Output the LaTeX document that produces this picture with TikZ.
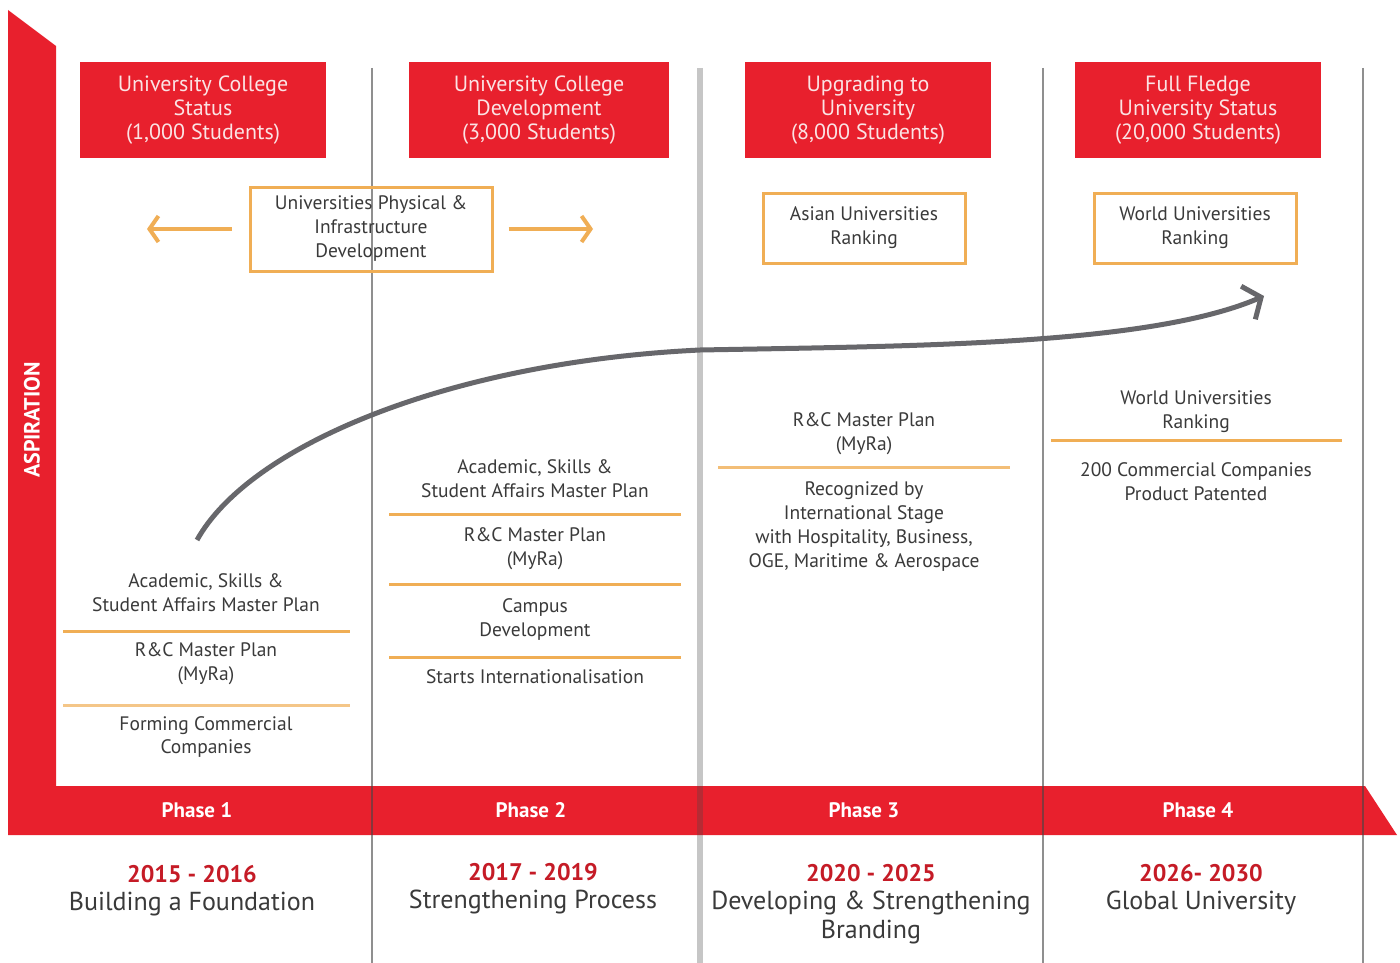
\documentclass[tikz,border=0pt]{standalone}
\usepackage{fontspec}
\setmainfont{PT Sans}
\usetikzlibrary{arrows.meta}
\definecolor{brandred}{HTML}{E8202D}
\definecolor{boxorange}{HTML}{F0AE55}
\definecolor{txtgray}{HTML}{3A3A3A}
\definecolor{curvegray}{HTML}{67676B}
\definecolor{pinkwhite}{HTML}{FBE3E4}
\begin{document}
\begin{tikzpicture}[x=1pt,y=-1pt,
  redbox/.style={fill=brandred,draw=none,minimum width=246pt,minimum height=96pt,inner sep=0pt,
    text=pinkwhite,align=center,font=\fontsize{22}{24}\selectfont},
  obox/.style={draw=boxorange,line width=3pt,fill=white,minimum height=70pt,inner sep=0pt,
    text=txtgray,align=center,font=\fontsize{19.5}{24}\selectfont},
  item/.style={text=txtgray,align=center,font=\fontsize{19.5}{24}\selectfont,inner sep=0pt},
  sep/.style={draw=boxorange,line width=3pt},
  phase/.style={text=white,font=\bfseries\fontsize{21}{22}\selectfont,inner sep=0pt},
  year/.style={text=brandred!85!black,font=\bfseries\fontsize{24}{26}\selectfont,inner sep=0pt},
  period/.style={text=txtgray,align=center,font=\fontsize{26}{29}\selectfont,inner sep=0pt},
  vline/.style={draw=black!73,opacity=0.6,line width=2.5pt},
  oarrow/.style={draw=boxorange,line width=4pt,-{Straight Barb[length=9pt,width=26pt,line width=4pt]}}
]
\useasboundingbox (0,0) rectangle (1400,963);
\fill[white] (0,0) rectangle (1400,963);

% red frame (aspiration axis + phase bar)
\fill[brandred] (8,10) -- (56,46) -- (56,786) -- (1365,786) -- (1397,835) -- (8,835) -- cycle;
\node[text=white,font=\bfseries\fontsize{22}{24}\selectfont,rotate=90] (asp) at (32,420) {ASPIRATION};

% phase labels
\node[phase] (p1) at (197,810) {Phase 1};
\node[phase] (p2) at (531,810) {Phase 2};
\node[phase] (p3) at (864,810) {Phase 3};
\node[phase] (p4) at (1198,810) {Phase 4};

% separators between columns
\draw[vline] (372,68) -- (372,963);
\draw[draw=black!73,opacity=0.3,line width=6pt] (700,68) -- (700,963);
\draw[vline] (1043,68) -- (1043,963);
\draw[vline] (1363,68) -- (1363,963);

% top red status boxes
\node[redbox] (s1) at (203,110) {University College\\Status\\(1,000 Students)};
\node[redbox,minimum width=260pt] (s2) at (539,110) {University College\\Development\\(3,000 Students)};
\node[redbox] (s3) at (868,110) {Upgrading to\\University\\(8,000 Students)};
\node[redbox] (s4) at (1198,110) {Full Fledge\\University Status\\(20,000 Students)};

% orange boxes
\node[obox,minimum width=242pt,minimum height=84pt,fill=none] (o1) at (371,229) {Universities Physical \&\\Infrastructure\\Development};
\node[obox,minimum width=202pt] (o2) at (864,228) {Asian Universities\\Ranking};
\node[obox,minimum width=202pt] (o3) at (1195,228) {World Universities\\Ranking};

\coordinate (la) at (147,229);
\coordinate (ra) at (593,229);
\draw[oarrow] ([xshift=-17pt]o1.west) -- (la);
\draw[oarrow] ([xshift=15pt]o1.east) -- (ra);

% aspiration curve
\coordinate (c0) at (197,540);
\coordinate (c1) at (700,350);
\coordinate (c2) at (1264,296);
\draw[draw=curvegray,line width=5pt,-{Straight Barb[length=14pt,width=36pt,line width=5pt]}]
  (c0) .. controls (250,445) and (450,362) .. (c1) .. controls (920,346) and (1150,345) .. (c2);

% Phase 1 items
\node[item] (a1) at (206,593) {Academic, Skills \&\\Student Affairs Master Plan};
\node[item] (a2) at (206,664) {R\&C Master Plan\\(MyRa)};
\node[item] (a3) at (206,737) {Forming Commercial\\Companies};
\draw[sep] (63,631) -- (350,631);
\draw[sep,draw=boxorange!70] (63,705) -- (350,705);

% Phase 2 items
\node[item] (b1) at (535,479) {Academic, Skills \&\\Student Affairs Master Plan};
\node[item] (b2) at (535,549) {R\&C Master Plan\\(MyRa)};
\node[item] (b3) at (535,620) {Campus\\Development};
\node[item] (b4) at (535,677) {Starts Internationalisation};
\draw[sep] (389,514) -- (681,514);
\draw[sep] (389,584) -- (681,584);
\draw[sep] (389,657) -- (681,657);

% Phase 3 items
\node[item] (d1) at (864,434) {R\&C Master Plan\\(MyRa)};
\node[item] (d2) at (864,527) {Recognized by\\International Stage\\with Hospitality, Business,\\OGE, Maritime \& Aerospace};
\draw[sep,draw=boxorange!80] (718,467) -- (1010,467);

% Phase 4 items
\node[item] (e1) at (1196,412) {World Universities\\Ranking};
\node[item] (e2) at (1196,482) {200 Commercial Companies\\Product Patented};
\draw[sep] (1051,440) -- (1342,440);

% years and periods
\node[year] (y1) at (192,874) {2015 - 2016};
\node[period,anchor=north] (t1) at (192,892) {Building a Foundation};
\node[year] (y2) at (533,872) {2017 - 2019};
\node[period,anchor=north] (t2) at (533,890) {Strengthening Process};
\node[year] (y3) at (871,873) {2020 - 2025};
\node[period,anchor=north] (t3) at (871,891) {Developing \& Strengthening\\Branding};
\node[year] (y4) at (1201,873) {2026- 2030};
\node[period,anchor=north] (t4) at (1201,891) {Global University};
\end{tikzpicture}
\end{document}
